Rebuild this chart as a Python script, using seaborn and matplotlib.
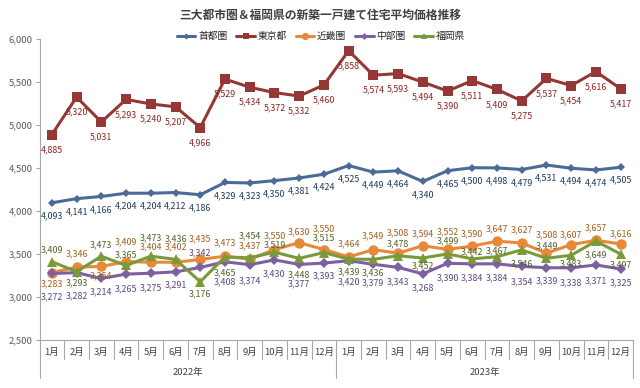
import numpy as np
import pandas as pd
import matplotlib
matplotlib.use("Agg")
import matplotlib.pyplot as plt
import matplotlib.transforms as mtrans
import seaborn as sns

# ---------------- data ----------------
months = [f"{m}月" for m in range(1, 13)] * 2
years = ["2022年", "2023年"]
series_names = ["首都圏", "東京都", "近畿圏", "中部圏", "福岡県"]

shutoken = [4093, 4141, 4166, 4204, 4204, 4212, 4186, 4329, 4323, 4350, 4381, 4424,
            4525, 4449, 4464, 4340, 4465, 4500, 4498, 4479, 4531, 4494, 4474, 4505]
tokyo = [4885, 5320, 5031, 5293, 5240, 5207, 4966, 5529, 5434, 5372, 5332, 5460,
         5858, 5574, 5593, 5494, 5390, 5511, 5409, 5275, 5537, 5454, 5616, 5417]
kinki = [3283, 3346, 3354, 3409, 3404, 3402, 3435, 3473, 3437, 3550, 3630, 3550,
         3464, 3549, 3508, 3594, 3552, 3590, 3647, 3627, 3508, 3607, 3657, 3616]
chubu = [3272, 3282, 3214, 3265, 3275, 3291, 3342, 3408, 3374, 3430, 3377, 3393,
         3420, 3379, 3343, 3268, 3390, 3384, 3384, 3354, 3339, 3338, 3371, 3325]
fukuoka = [3409, 3293, 3473, 3365, 3473, 3436, 3176, 3465, 3454, 3519, 3448, 3515,
           3439, 3436, 3478, 3452, 3499, 3442, 3467, 3546, 3449, 3483, 3649, 3497]

values = [shutoken, tokyo, kinki, chubu, fukuoka]

# label vertical offsets in pixels (positive = above marker)
off_shutoken = [-13] * 24
off_tokyo = [-15] * 24
off_kinki = [-11, 13, -9, 20, 15, 15, 21, 13, 13, 14, 11, 21,
             13, 14, 20, 12, 18, 12, 12, 13, 18, 10, 13, 10]
off_chubu = [-23, -23, -13, -15, -15, -13, 15, -20, -16, -14, -19, -13,
             -21, -19, -14, -14, -14, -14, -14, -15, -13, -15, -16, -14]
off_fukuoka = [12, -11, 11, 11, 18, 21, -12, -16, 22, 7, -16, 15,
               -13, -13, 12, -8, 13, 7, 6, -14, 12, -8, -14, -11]
offsets = [off_shutoken, off_tokyo, off_kinki, off_chubu, off_fukuoka]

line_colors = ["#4A6B98", "#953735", "#E8893A", "#7D60A0", "#7A9A3A"]
label_colors = ["#1F3A5F", "#8B2624", "#A65E1E", "#5E467E", "#4F6228"]
marker_styles = ["D", "s", "o", "D", "^"]
marker_sizes = [4.5, 6.5, 7.5, 5, 6.5]

# ---------------- figure ----------------
sns.set_theme(style="white")
plt.rcParams["font.family"] = ["Noto Sans CJK JP", "DejaVu Sans"]

fig = plt.figure(figsize=(6.4, 3.88), dpi=100)
ax = fig.add_axes([39.5 / 640, 1 - 340 / 388, 593.5 / 640, (340 - 38.5) / 388])

n = len(months)
idx = np.arange(n)
df = pd.DataFrame({
    "idx": np.tile(idx, len(series_names)),
    "value": np.concatenate(values),
    "series": np.repeat(series_names, n),
})

for i, name in enumerate(series_names):
    sub = df[df["series"] == name]
    sns.lineplot(data=sub, x="idx", y="value", ax=ax, color=line_colors[i],
                 marker=marker_styles[i], markersize=marker_sizes[i],
                 markeredgewidth=0, linewidth=2.2, label=name, zorder=3)

# data labels
for i, name in enumerate(series_names):
    for j, v in enumerate(values[i]):
        dy = offsets[i][j]
        ax.annotate(f"{v:,}", (j, v), xytext=(0, dy * 0.72), textcoords="offset points",
                    ha="center", va="center", fontsize=6.4, color=label_colors[i], zorder=4)

# axes styling
ax.set_xlim(-0.5, n - 0.5)
ax.set_ylim(2500, 6000)
ax.set_yticks(np.arange(2500, 6001, 500))
ax.set_yticklabels([f"{t:,}" for t in np.arange(2500, 6001, 500)])
ax.tick_params(axis="y", labelsize=6.8, colors="#595959", length=3, width=0.8, pad=2,
               direction="out", left=True)
ax.tick_params(axis="y", color="#A6A6A6")
ax.set_xticks(idx)
ax.set_xticklabels([])
ax.tick_params(axis="x", length=0)
ax.set_xlabel("")
ax.set_ylabel("")
for s in ["top", "right"]:
    ax.spines[s].set_visible(False)
ax.spines["left"].set_color("#A6A6A6")
ax.spines["bottom"].set_color("#A6A6A6")
ax.spines["left"].set_linewidth(0.8)
ax.spines["bottom"].set_linewidth(0.8)
ax.grid(False)

# category axis (months + years)
trans = mtrans.blended_transform_factory(ax.transData, ax.transAxes)
axh = 340 - 38.5
for j in idx:
    ax.text(j, -12 / axh, months[j], transform=trans, ha="center", va="center",
            fontsize=6.8, color="#404040")
for b in np.arange(-0.5, n, 1.0):
    long = (b == -0.5) or (b == n - 0.5) or (b == 11.5)
    length = 38 if long else 19
    ax.plot([b, b], [0, -length / axh], transform=trans, color="#A6A6A6",
            linewidth=0.8, clip_on=False)
for k, y in enumerate(years):
    ax.text(5.5 + 12 * k, -32 / axh, y, transform=trans, ha="center", va="center",
            fontsize=6.8, color="#404040")

# legend
handles, labels = ax.get_legend_handles_labels()
ax.legend(handles, labels, ncol=5, loc="center", bbox_to_anchor=(321 / 640, 1 - 36 / 388),
          bbox_transform=fig.transFigure, frameon=False, fontsize=7,
          handlelength=1.9, columnspacing=0.9, handletextpad=0.3, markerscale=0.7)

fig.text(0.5, 1 - 15 / 388, "三大都市圏＆福岡県の新築一戸建て住宅平均価格推移", ha="center",
         va="center", fontsize=8.5, fontweight="bold", color="#404040")

fig.savefig("out.png", dpi=100)
